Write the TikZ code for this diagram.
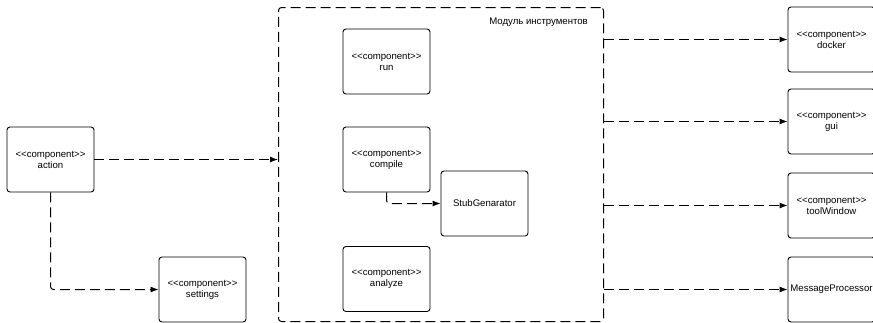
\documentclass[tikz,border=0pt]{standalone}
\usepackage{fontspec}
\setmainfont{Liberation Sans}
\usetikzlibrary{arrows.meta}
\newcommand{\stereo}{<{}<component>{}>}
\begin{document}
\begin{tikzpicture}[x=1pt,y=-1pt,
  comp/.style={draw=black, line width=0.9pt, rounded corners=3pt, minimum width=87pt, minimum height=65pt, inner sep=0pt, align=center, font=\fontsize{9.6}{11}\selectfont},
  dep/.style={draw=black, line width=1pt, dash pattern=on 10pt off 5pt, rounded corners=3pt, -{Latex[length=8pt,width=6pt]}},
  container/.style={draw=black, line width=1pt, dash pattern=on 10pt off 5pt, rounded corners=3pt, minimum width=325pt, minimum height=314pt, inner sep=0pt}
]
\useasboundingbox (0,0) rectangle (873,322);
\node[container] (mod) at (441,164.5) {};
\node[anchor=east, inner sep=0pt, font=\fontsize{9.6}{11}\selectfont] (modlabel) at (588,22) {Модуль инструментов};

\node[comp] (action) at (50.5,159.5) {\stereo\\action};
\node[comp] (settings) at (202.5,289.5) {\stereo\\settings};

\node[comp] (run) at (386.5,61.5) {\stereo\\run};
\node[comp] (compile) at (386.5,159.5) {\stereo\\compile};
\node[comp] (stub) at (484.5,203.5) {StubGenarator};
\node[comp] (analyze) at (386.5,279) {\stereo\\analyze};

\node[comp] (docker) at (831.5,39.5) {\stereo\\docker};
\node[comp] (gui) at (831.5,121.5) {\stereo\\gui};
\node[comp] (tool) at (831.5,205.5) {\stereo\\toolWindow};
\node[comp] (mp) at (831.5,289.5) {MessageProcessor};

\draw[dep] (action.east) -- (mod.west |- action.east);
\draw[dep] (action.south) |- (settings.west);
\draw[dep] (compile.south) |- (stub.west);
\draw[dep] (mod.east |- docker.west) -- (docker.west);
\draw[dep] (mod.east |- gui.west) -- (gui.west);
\draw[dep] (mod.east |- tool.west) -- (tool.west);
\draw[dep] (mod.east |- mp.west) -- (mp.west);
\end{tikzpicture}
\end{document}
